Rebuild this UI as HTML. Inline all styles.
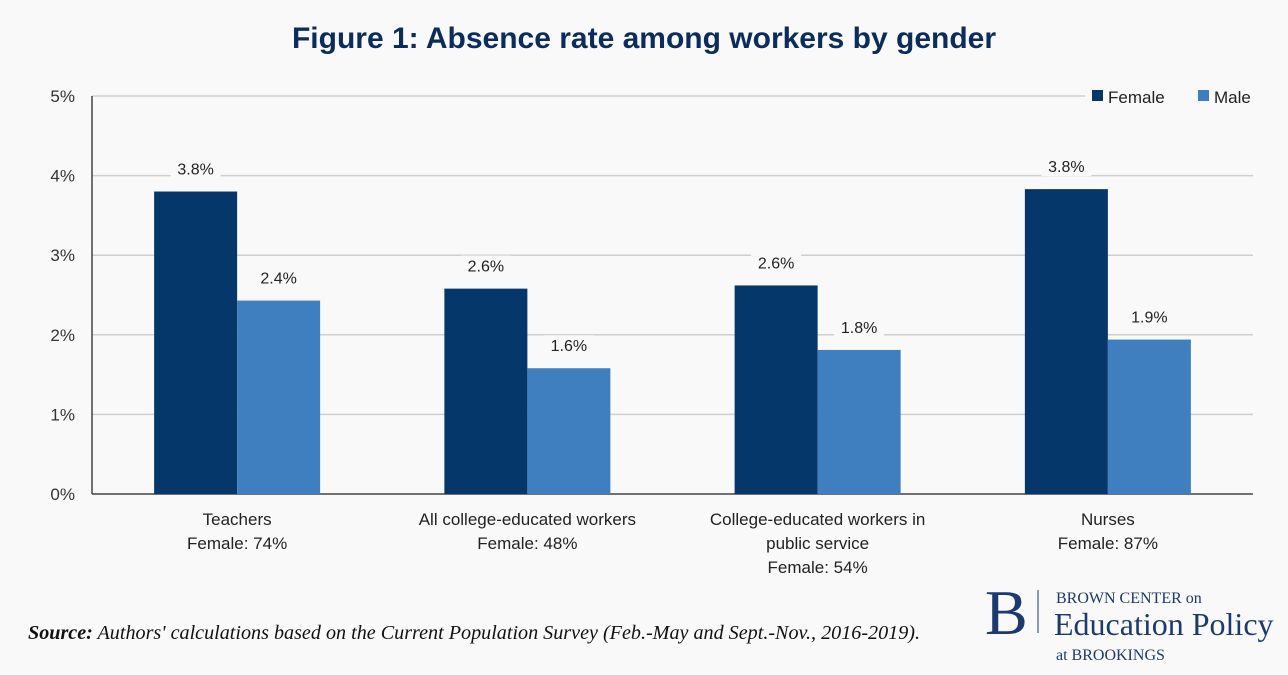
<!DOCTYPE html>
<html><head><meta charset="utf-8"><style>
body{margin:0;background:#f9f9f9;}
svg{display:block;font-family:"Liberation Sans",sans-serif;}
</style></head><body>
<svg id="chart" width="1288" height="675" viewBox="0 0 1288 675">
<rect width="1288" height="675" fill="#f9f9f9"/>
<text x="644" y="48" text-anchor="middle" font-size="30" font-weight="bold" fill="#0b2d5e">Figure 1: Absence rate among workers by gender</text>
<g id="grid"></g><g id="bars"></g><g id="labels"></g>
<g>
<rect x="1085" y="84" width="175" height="24" fill="#f9f9f9"/>
<rect x="1092" y="90" width="11" height="11" fill="#06376a"/>
<text x="1108" y="103" font-size="17" fill="#222">Female</text>
<rect x="1198" y="90" width="11" height="11" fill="#3f7fbf"/>
<text x="1214" y="103" font-size="17" fill="#222">Male</text>
</g>
<text x="28" y="639" font-family="Liberation Serif,serif" font-style="italic" font-size="20" fill="#111" textLength="892" lengthAdjust="spacingAndGlyphs"><tspan font-weight="bold">Source:</tspan> Authors' calculations based on the Current Population Survey (Feb.-May and Sept.-Nov., 2016-2019).</text>
<g font-family="Liberation Serif,serif" fill="#1c3a6e">
<text x="985" y="634" font-size="64">B</text>
<line x1="1038" y1="590" x2="1038" y2="633" stroke="#1c3a6e" stroke-width="1"/>
<text x="1056" y="603" font-size="16">BROWN CENTER on</text>
<text x="1054" y="635" font-size="32">Education Policy</text>
<text x="1056" y="660" font-size="16">at BROOKINGS</text>
</g>
</svg>
<script>
const categories=[["Teachers","Female: 74%"],["All college-educated  workers","Female: 48%"],["College-educated  workers in","public service","Female: 54%"],["Nurses","Female: 87%"]];
const femaleValues=[3.8,2.58,2.62,3.83];
const maleValues=[2.43,1.58,1.81,1.94];
const femaleLabels=["3.8%","2.6%","2.6%","3.8%"];
const maleLabels=["2.4%","1.6%","1.8%","1.9%"];
const yTicks=[0,1,2,3,4,5];
const NS="http://www.w3.org/2000/svg";
const L=92,R=1253,T=96,B=494,yMax=5;
const y=v=>B-(v/yMax)*(B-T);
const gw=(R-L)/categories.length,bw=83;
function mk(tag,attrs,parent,txt){const e=document.createElementNS(NS,tag);for(const k in attrs)e.setAttribute(k,attrs[k]);if(txt!==undefined)e.textContent=txt;parent.appendChild(e);return e;}
const grid=document.getElementById('grid'),bars=document.getElementById('bars'),labels=document.getElementById('labels');
yTicks.forEach(t=>{
  if(t>0){const g=mk('line',{x1:L,x2:R,y1:y(t),y2:y(t),stroke:'#cfcfcf','stroke-width':1.5},grid);
  
  }
  const tk=mk('text',{x:75,y:y(t)+6,'text-anchor':'end','font-size':17,fill:'#333'},grid,t+'%');
  
  
});
const ax=mk('line',{x1:L,x2:L,y1:T,y2:B,stroke:'#444','stroke-width':1.5},grid);


const bx=mk('line',{x1:L,x2:R,y1:B,y2:B,stroke:'#444','stroke-width':1.5},grid);


function addLabel(cx,v,txt){
  const w=txt.length*9+14;
  const bg=mk('rect',{x:cx-w/2,y:y(v)-33,width:w,height:20,fill:'#f9f9f9'},labels);
  
  
  const t=mk('text',{x:cx,y:y(v)-17,'text-anchor':'middle','font-size':16,fill:'#222'},labels,txt);
  
  
}
categories.forEach((c,i)=>{
  const cx=L+gw*(i+0.5);
  const f=mk('rect',{x:cx-bw,y:y(femaleValues[i]),width:bw,height:B-y(femaleValues[i]),fill:'#06376a'},bars);
  
  
  const m=mk('rect',{x:cx,y:y(maleValues[i]),width:bw,height:B-y(maleValues[i]),fill:'#3f7fbf'},bars);
  
  
  addLabel(cx-bw/2,femaleValues[i],femaleLabels[i]);
  addLabel(cx+bw/2,maleValues[i],maleLabels[i]);
  c.forEach((line,j)=>{
    const t=mk('text',{x:cx,y:525+j*24,'text-anchor':'middle','font-size':17,fill:'#222','xml:space':'preserve'},labels,line);
    
    
  });
});
</script>
</body></html>
